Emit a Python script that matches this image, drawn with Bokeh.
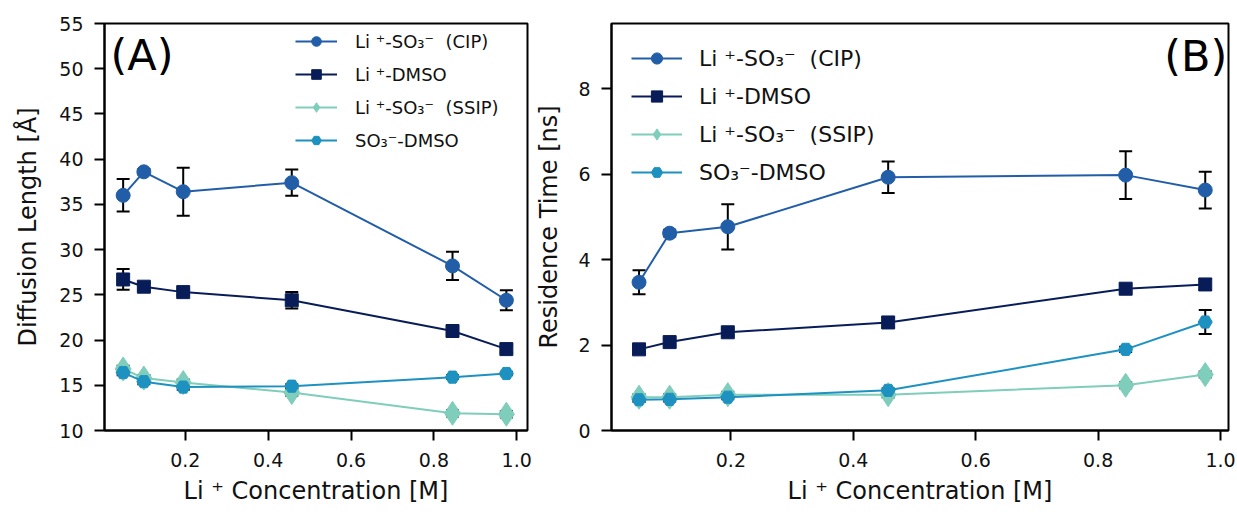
from bokeh.plotting import figure
from bokeh.models import (ColumnDataSource, Whisker, TeeHead, FixedTicker,
                          PrintfTickFormatter, Legend, LegendItem, Label, Range1d)
from bokeh.layouts import row
from bokeh.embed import file_html
from bokeh.resources import INLINE

# ---------------- data ----------------
conc = [0.05, 0.1, 0.195, 0.457, 0.845, 0.975]

NB = "\u00a0"
labels = ["Li" + NB + "⁺-SO₃⁻" + NB + NB + "(CIP)",
          "Li" + NB + "⁺-DMSO",
          "Li" + NB + "⁺-SO₃⁻" + NB + NB + "(SSIP)",
          "SO₃⁻-DMSO"]
colors = ["#225ea8", "#081d58", "#7fcdbb", "#1d91c0"]
markers = ["circle", "square", "diamond", "hex"]
msizes = [14, 13, 24, 14]

# Panel A: diffusion length [Å]
diff_cip = [36.0, 38.6, 36.4, 37.4, 28.2, 24.4]
diff_cip_err = [1.8, 0.3, 2.65, 1.45, 1.55, 1.1]
diff_dmso = [26.7, 25.9, 25.3, 24.4, 21.0, 19.0]
diff_dmso_err = [1.15, 0.4, 0.3, 0.9, 0.4, 0.4]
diff_ssip = [16.8, 15.8, 15.3, 14.2, 11.9, 11.8]
diff_ssip_err = [0.35, 0.35, 0.35, 0.35, 0.35, 0.35]
diff_so3 = [16.4, 15.4, 14.8, 14.9, 15.9, 16.3]
diff_so3_err = [0.3, 0.3, 0.3, 0.2, 0.2, 0.2]

# Panel B: residence time [ns]
res_cip = [3.47, 4.62, 4.77, 5.93, 5.98, 5.63]
res_cip_err = [0.28, 0.08, 0.53, 0.37, 0.56, 0.43]
res_dmso = [1.9, 2.07, 2.3, 2.53, 3.32, 3.42]
res_dmso_err = [0.1, 0.08, 0.08, 0.12, 0.08, 0.13]
res_ssip = [0.78, 0.78, 0.84, 0.84, 1.06, 1.31]
res_ssip_err = [0.07, 0.07, 0.07, 0.07, 0.07, 0.07]
res_so3 = [0.72, 0.73, 0.78, 0.94, 1.9, 2.54]
res_so3_err = [0.05, 0.05, 0.05, 0.05, 0.06, 0.28]

x_ticks = [0.2, 0.4, 0.6, 0.8, 1.0]
yA_ticks = [10, 15, 20, 25, 30, 35, 40, 45, 50, 55]
yB_ticks = [0, 2, 4, 6, 8]

x_label = "Li" + NB + "⁺" + NB + "Concentration [M]"

FONT = "DejaVu Sans"


def style(p, tick_px, label_px, ylab_standoff):
    p.outline_line_color = "black"
    p.outline_line_width = 2
    p.xgrid.visible = False
    p.ygrid.visible = False
    p.background_fill_color = "white"
    p.border_fill_color = "white"
    for ax in (p.xaxis[0], p.yaxis[0]):
        ax.axis_line_width = 2
        ax.axis_line_color = "black"
        ax.major_tick_line_width = 2
        ax.major_tick_line_color = "black"
        ax.major_tick_out = 10
        ax.major_tick_in = 0
        ax.minor_tick_line_color = None
        ax.major_label_text_font = FONT
        ax.major_label_text_font_size = tick_px
        ax.major_label_text_color = "#111111"
        ax.axis_label_text_font = FONT
        ax.axis_label_text_font_size = label_px
        ax.axis_label_text_font_style = "normal"
        ax.axis_label_text_color = "#111111"
    p.xaxis[0].major_label_standoff = 12
    p.yaxis[0].major_label_standoff = 11
    p.xaxis[0].axis_label_standoff = 7
    p.yaxis[0].axis_label_standoff = ylab_standoff


def add_series(p, ys, errs):
    items = []
    for y, e, lab, col, mk, ms in zip(ys, errs, labels, colors, markers, msizes):
        src = ColumnDataSource(dict(
            x=conc, y=y,
            lo=[a - b for a, b in zip(y, e)],
            hi=[a + b for a, b in zip(y, e)]))
        w = Whisker(source=src, base="x", lower="lo", upper="hi",
                    line_color="black", line_width=2,
                    upper_head=TeeHead(size=13, line_width=2, line_color="black"),
                    lower_head=TeeHead(size=13, line_width=2, line_color="black"))
        p.add_layout(w)
        lr = p.line("x", "y", source=src, line_color=col, line_width=2)
        sr = p.scatter("x", "y", source=src, marker=mk, size=ms,
                       fill_color=col, line_color=col, line_width=1)
        items.append(LegendItem(label=lab, renderers=[lr, sr]))
    return items


# ---------------- Panel A ----------------
pA = figure(width=532, height=513, output_backend="svg", toolbar_location=None,
            x_range=Range1d(0.005, 1.026), y_range=Range1d(10, 55),
            min_border_left=104, min_border_right=5, min_border_top=23,
            min_border_bottom=81)
style(pA, "19px", "24px", 14)
pA.xaxis[0].ticker = FixedTicker(ticks=x_ticks)
pA.xaxis[0].formatter = PrintfTickFormatter(format="%.1f")
pA.yaxis[0].ticker = FixedTicker(ticks=yA_ticks)
pA.yaxis[0].formatter = PrintfTickFormatter(format="%d")
pA.xaxis[0].axis_label = x_label
pA.yaxis[0].axis_label = "Diffusion Length [Å]"
itemsA = add_series(pA, [diff_cip, diff_dmso, diff_ssip, diff_so3],
                    [diff_cip_err, diff_dmso_err, diff_ssip_err, diff_so3_err])
legA = Legend(items=itemsA, location=(191, 278), border_line_color=None,
              background_fill_alpha=0, padding=0, margin=0, spacing=9,
              glyph_width=42, glyph_height=24, label_height=24,
              label_standoff=18, label_text_font=FONT,
              label_text_font_size="18px", label_text_color="#111111")
pA.add_layout(legA)
pA.add_layout(Label(x=0.0195, y=51.5, text="(A)", text_font=FONT,
                    text_font_size="43px", text_baseline="middle",
                    text_align="left", text_color="black"))

# ---------------- Panel B ----------------
pB = figure(width=704, height=513, output_backend="svg", toolbar_location=None,
            x_range=Range1d(0.005, 1.013), y_range=Range1d(0, 9.53),
            min_border_left=77, min_border_right=8, min_border_top=23,
            min_border_bottom=83)
style(pB, "19px", "24px", 12)
pB.xaxis[0].ticker = FixedTicker(ticks=x_ticks)
pB.xaxis[0].formatter = PrintfTickFormatter(format="%.1f")
pB.yaxis[0].ticker = FixedTicker(ticks=yB_ticks)
pB.yaxis[0].formatter = PrintfTickFormatter(format="%d")
pB.xaxis[0].axis_label = x_label
pB.yaxis[0].axis_label = "Residence Time [ns]"
itemsB = add_series(pB, [res_cip, res_dmso, res_ssip, res_so3],
                    [res_cip_err, res_dmso_err, res_ssip_err, res_so3_err])
legB = Legend(items=itemsB, location=(20, 244), border_line_color=None,
              background_fill_alpha=0, padding=0, margin=0, spacing=10,
              glyph_width=51, glyph_height=28, label_height=28,
              label_standoff=17, label_text_font=FONT,
              label_text_font_size="22px", label_text_color="#111111")
pB.add_layout(legB)
pB.add_layout(Label(x=1.011, y=8.76, text="(B)", text_font=FONT,
                    text_font_size="43px", text_baseline="middle",
                    text_align="right", text_color="black"))

layout = row(pA, pB)
open("out.html", "w").write(file_html(layout, INLINE))
